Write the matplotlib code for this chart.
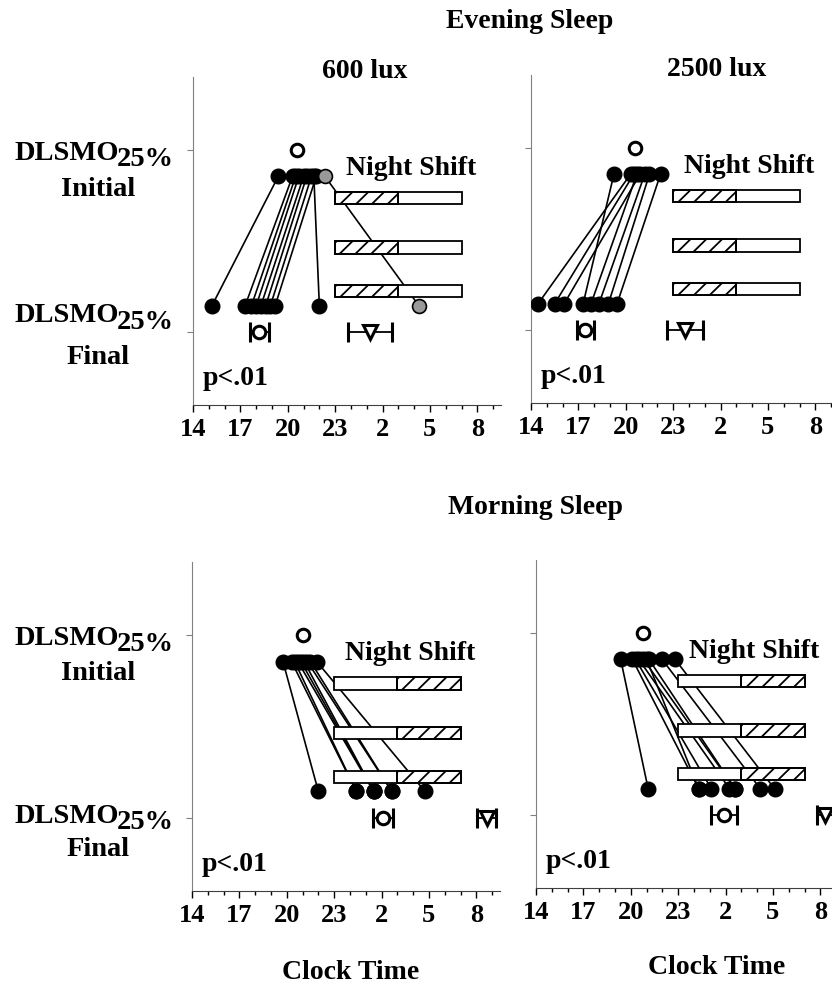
import matplotlib
matplotlib.use("Agg")
import matplotlib.pyplot as plt
import numpy as np
from matplotlib.ticker import MultipleLocator, FixedLocator, FixedFormatter

plt.rcParams['font.family'] = ['Liberation Serif', 'DejaVu Serif']
plt.rcParams['font.weight'] = 'bold'

# --- data (clock hours, after midnight written as 24+h) ---
# evening sleep, 600 lux
ev600_init = [19.4, 20.3, 20.5, 20.7, 21.0, 21.2, 21.5, 21.8, 21.65]
ev600_final = [15.2, 17.3, 17.7, 18.0, 18.3, 18.6, 18.9, 19.2, 22.0]
ev600_gray = [22.35, 28.3]          # subject who delayed
ev600_means = [20.6, 18.2, 25.2]    # initial, final, sleep
ev600_err = [0.25, 0.6, 1.4]

# evening sleep, 2500 lux
ev2500_init = [19.25, 20.3, 20.5, 20.7, 20.9, 21.2, 21.5, 22.2]
ev2500_final = [17.3, 14.45, 15.5, 17.8, 16.1, 18.3, 18.9, 19.45]
ev2500_means = [20.6, 17.45, 23.75]
ev2500_err = [0.25, 0.55, 1.15]

# morning sleep, 600 lux
mo600_init = [19.76, 20.3, 20.5, 20.7, 20.9, 21.1, 21.3, 21.5, 21.9]
mo600_final = [22.0, 24.4, 24.4, 25.5, 25.5, 25.5, 26.65, 26.65, 28.75]
mo600_means = [21.0, 26.1, 32.65]
mo600_err = [0.25, 0.65, 0.6]

# morning sleep, 2500 lux
mo2500_init = [19.36, 20.1, 20.3, 20.5, 20.8, 21.0, 21.15, 21.98, 22.8]
mo2500_final = [21.1, 24.3, 25.1, 26.25, 26.6, 24.3, 26.6, 28.2, 29.1]
mo2500_means = [20.8, 25.9, 32.3]
mo2500_err = [0.25, 0.85, 0.5]

shift_start, shift_mid, shift_end = 23, 27, 31
shift_rows = [0.735, 0.465, 0.225]
hour_ticks = [14, 17, 20, 23, 26, 29, 32]
hour_labels = [str(h % 24) for h in hour_ticks]

Y_INIT, Y_FINAL = 0.855, 0.145   # individual rows, means sit at 1 and 0
BAR_H = 0.068

W, H = 832, 988
fig = plt.figure(figsize=(W / 100, H / 100), dpi=100)


def ftext(x, y, s, size=20, **kw):
    fig.text(x / W, 1 - y / H, s, fontsize=size, fontweight='bold', **kw)


def hatched_bar(ax, y, left, width):
    # wide diagonal hatch, clipped to the bar outline
    rect = ax.barh(y, width, left=left, height=BAR_H, color='white',
                   edgecolor='black', lw=1.3, zorder=3)[0]
    for x0 in np.arange(left - 0.7, left + width + 0.1, 1.0):
        ln, = ax.plot([x0, x0 + 0.8], [y - BAR_H / 2, y + BAR_H / 2],
                      color='black', lw=1.3, zorder=3.5)
        ln.set_clip_path(rect)
    # redraw the outline above the hatch lines
    ax.barh(y, width, left=left, height=BAR_H, fill=False,
            edgecolor='black', lw=1.3, zorder=3.6)


def panel(left, top, bottom, init, final, means, err, evening, gray=None):
    ax = fig.add_axes([left / W, 1 - bottom / H, 308 / W, (bottom - top) / H])
    ax.set_xlim(14, 33.5)
    ax.set_ylim(-0.4, 1.4)
    for s in ['top', 'right']:
        ax.spines[s].set_visible(False)
    ax.spines['left'].set_color('#808080')
    ax.spines['bottom'].set_color('#404040')
    ax.xaxis.set_major_locator(FixedLocator(hour_ticks))
    ax.xaxis.set_major_formatter(FixedFormatter(hour_labels))
    ax.xaxis.set_minor_locator(MultipleLocator(1))
    ax.yaxis.set_major_locator(FixedLocator([0, 1]))
    ax.set_yticklabels([])
    ax.tick_params(axis='x', which='major', length=5, width=1, labelsize=19, pad=4)
    ax.tick_params(axis='x', which='minor', length=3, width=1)
    ax.tick_params(axis='y', length=4, color='#808080')
    for lab in ax.get_xticklabels():
        lab.set_fontweight('bold')

    # subject lines, drawn under the shift bars
    for a, b in zip(init, final):
        ax.plot([a, b], [Y_INIT, Y_FINAL], color='black', lw=1.2, zorder=2)
    if gray:
        ax.plot(gray, [Y_INIT, Y_FINAL], color='black', lw=1.2, zorder=2)

    # night shift bars, hatched half = hours awake before/after sleep window
    hatch_left = shift_start if evening else shift_mid
    plain_left = shift_mid if evening else shift_start
    for y in shift_rows:
        ax.barh(y, shift_mid - shift_start, left=plain_left, height=BAR_H,
                color='white', edgecolor='black', lw=1.3, zorder=3)
        hatched_bar(ax, y, hatch_left, shift_end - shift_mid)

    ax.plot(init, [Y_INIT] * len(init), 'o', color='black', ms=10.5, zorder=4)
    ax.plot(final, [Y_FINAL] * len(final), 'o', color='black', ms=10.5, zorder=4)
    if gray:
        ax.plot(gray, [Y_INIT, Y_FINAL], 'o', mfc='#999999', mec='black',
                mew=1.2, ms=10, zorder=5)

    # group means with error bars
    ax.errorbar(means[0], 1, xerr=err[0], fmt='o', mfc='white', mec='black',
                mew=2.2, ms=9, ecolor='black', elinewidth=1.3, capsize=3,
                capthick=1.3, zorder=5)
    ax.errorbar(means[1], 0, xerr=err[1], fmt='o', mfc='white', mec='black',
                mew=2.2, ms=9, ecolor='black', elinewidth=1.3, capsize=7,
                capthick=1.3, zorder=5)
    ax.errorbar(means[2], 0, xerr=err[2], fmt='v', mfc='white', mec='black',
                mew=2.2, ms=10, ecolor='black', elinewidth=1.3, capsize=7,
                capthick=1.3, zorder=5)

    ax.text(27.8, 0.9, 'Night Shift', fontsize=20, fontweight='bold',
            ha='center', va='center')
    ax.text(0.03, 0.08, 'p<.01', transform=ax.transAxes, fontsize=20,
            fontweight='bold', ha='left', va='center')
    return ax


panel(193, 77, 405, ev600_init, ev600_final, ev600_means, ev600_err, True, ev600_gray)
panel(531, 75, 403, ev2500_init, ev2500_final, ev2500_means, ev2500_err, True)
panel(192, 562, 891, mo600_init, mo600_final, mo600_means, mo600_err, False)
panel(536, 560, 888, mo2500_init, mo2500_final, mo2500_means, mo2500_err, False)

# titles
ftext(530, 22, 'Evening Sleep', ha='center', va='center')
ftext(365, 72, '600 lux', ha='center', va='center')
ftext(717, 70, '2500 lux', ha='center', va='center')
ftext(535, 508, 'Morning Sleep', ha='center', va='center')
ftext(351, 972, 'Clock Time', ha='center', va='center')
ftext(717, 967, 'Clock Time', ha='center', va='center')

# row labels at the left
for y_lab, y_word, word in [(153, 190, 'Initial'), (316, 357, 'Final'),
                            (638, 673, 'Initial'), (816, 849, 'Final')]:
    ftext(119, y_lab, 'DLSMO', size=20.5, ha='right', va='center')
    ftext(117, y_lab + 6, '25%', size=20.5, ha='left', va='center')
    ftext(98, y_word, word, size=20.5, ha='center', va='center')

fig.savefig('out.png', dpi=100)
